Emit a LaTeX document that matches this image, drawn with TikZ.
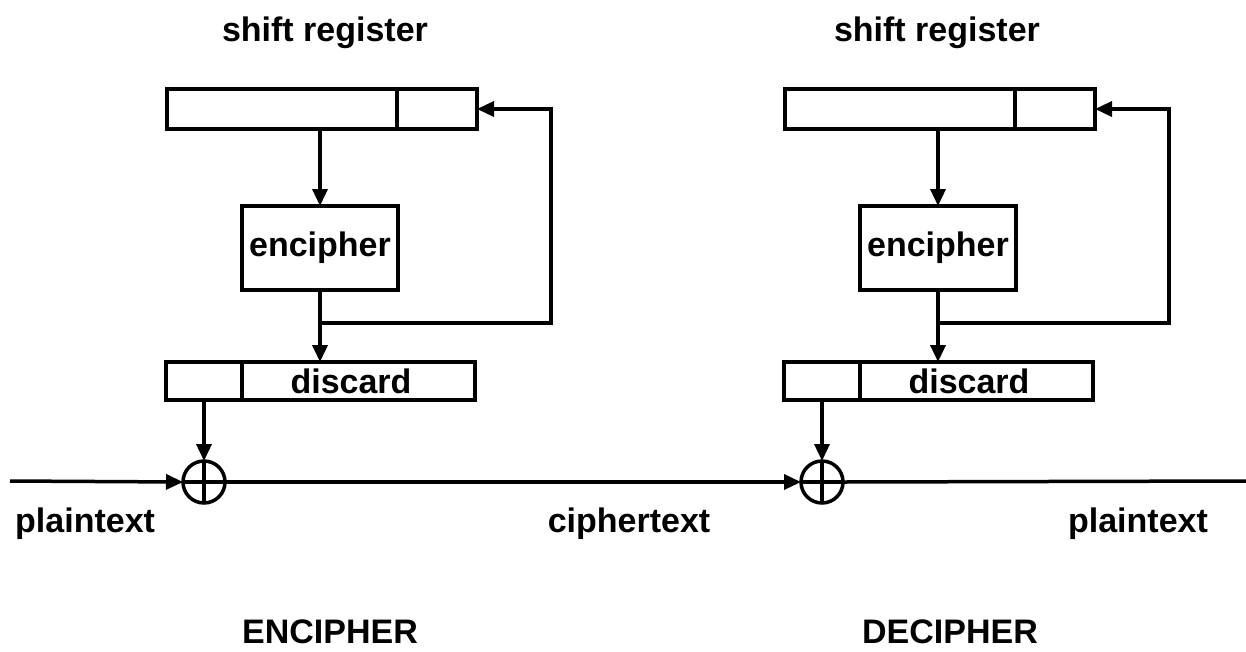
\documentclass[tikz,border=0pt]{standalone}
\usepackage{fontspec}
\setmainfont{Liberation Sans}
\usetikzlibrary{arrows.meta}
\begin{document}
\begin{tikzpicture}[x=1pt,y=-1pt,
  bigfont/.style={font=\fontsize{34}{40}\selectfont\bfseries},
  box/.style={draw, line width=3.5pt, inner sep=0pt, outer sep=0pt, bigfont},
  lbl/.style={bigfont, inner sep=0pt, anchor=base},
  wire/.style={line width=3.5pt},
  arr/.style={wire, -{Triangle[length=17pt,width=15pt]}},
  xor/.style={draw, circle, line width=3.5pt, minimum size=42pt, inner sep=0pt, outer sep=0pt}]
\useasboundingbox[fill=white] (0,0) rectangle (1246,651);

% ---------- ENCIPHER side ----------
\node[lbl] (sr1lbl) at (325,41) {shift register};
\node[box, minimum width=230pt, minimum height=40pt] (sr1a) at (282,109) {};
\node[box, minimum width=80pt, minimum height=40pt] (sr1b) at (437,109) {};
\node[box, minimum width=156pt, minimum height=84pt] (enc1) at (320,248) {encipher};
\node[box, minimum width=76pt, minimum height=38pt] (dc1a) at (204,381) {};
\node[box, minimum width=233pt, minimum height=38pt] (dc1b) at (358.5,381) {};
\node[lbl, anchor=center] (dt1) at (351,381) {discard};
\node[xor] (x1) at (204,482) {};
\coordinate (fb1) at (320,323);
\coordinate (c1) at (551,109);

\draw[arr] (enc1.north |- sr1a.south) -- (enc1.north);
\draw[arr] (enc1.south) -- (enc1.south |- dc1b.north);
\draw[arr] (fb1) -| (c1) -- (sr1b.east);
\draw[arr] (dc1a.south) -- (x1.north);
\draw[wire] (x1.north) -- (x1.south);

% ---------- DECIPHER side ----------
\node[lbl] (sr2lbl) at (937,41) {shift register};
\node[box, minimum width=230pt, minimum height=40pt] (sr2a) at (900,109) {};
\node[box, minimum width=80pt, minimum height=40pt] (sr2b) at (1055,109) {};
\node[box, minimum width=156pt, minimum height=84pt] (enc2) at (938,248) {encipher};
\node[box, minimum width=76pt, minimum height=38pt] (dc2a) at (822,381) {};
\node[box, minimum width=233pt, minimum height=38pt] (dc2b) at (976.5,381) {};
\node[lbl, anchor=center] (dt2) at (969,381) {discard};
\node[xor] (x2) at (822,482) {};
\coordinate (fb2) at (938,323);
\coordinate (c2) at (1169,109);

\draw[arr] (enc2.north |- sr2a.south) -- (enc2.north);
\draw[arr] (enc2.south) -- (enc2.south |- dc2b.north);
\draw[arr] (fb2) -| (c2) -- (sr2b.east);
\draw[arr] (dc2a.south) -- (x2.north);
\draw[wire] (x2.north) -- (x2.south);

% ---------- data line ----------
\coordinate (in) at (10,481);
\coordinate (out) at (1246,481);
\draw[arr] (in) -- (x1.west);
\draw[wire] (x1.west) -- (x1.east);
\draw[arr] (x1.east) -- (x2.west);
\draw[wire] (x2.west) -- (x2.east);
\draw[wire] (x2.east) -- (out);

% ---------- labels ----------
\node[lbl, anchor=base west] (pt1) at (15,532) {plaintext};
\node[lbl] (ct) at (629,532) {ciphertext};
\node[lbl] (pt2) at (1138,532) {plaintext};
\node[lbl, text depth=0pt] (encl) at (330,643) {ENCIPHER};
\node[lbl, text depth=0pt] (decl) at (950,643) {DECIPHER};
\end{tikzpicture}
\end{document}
